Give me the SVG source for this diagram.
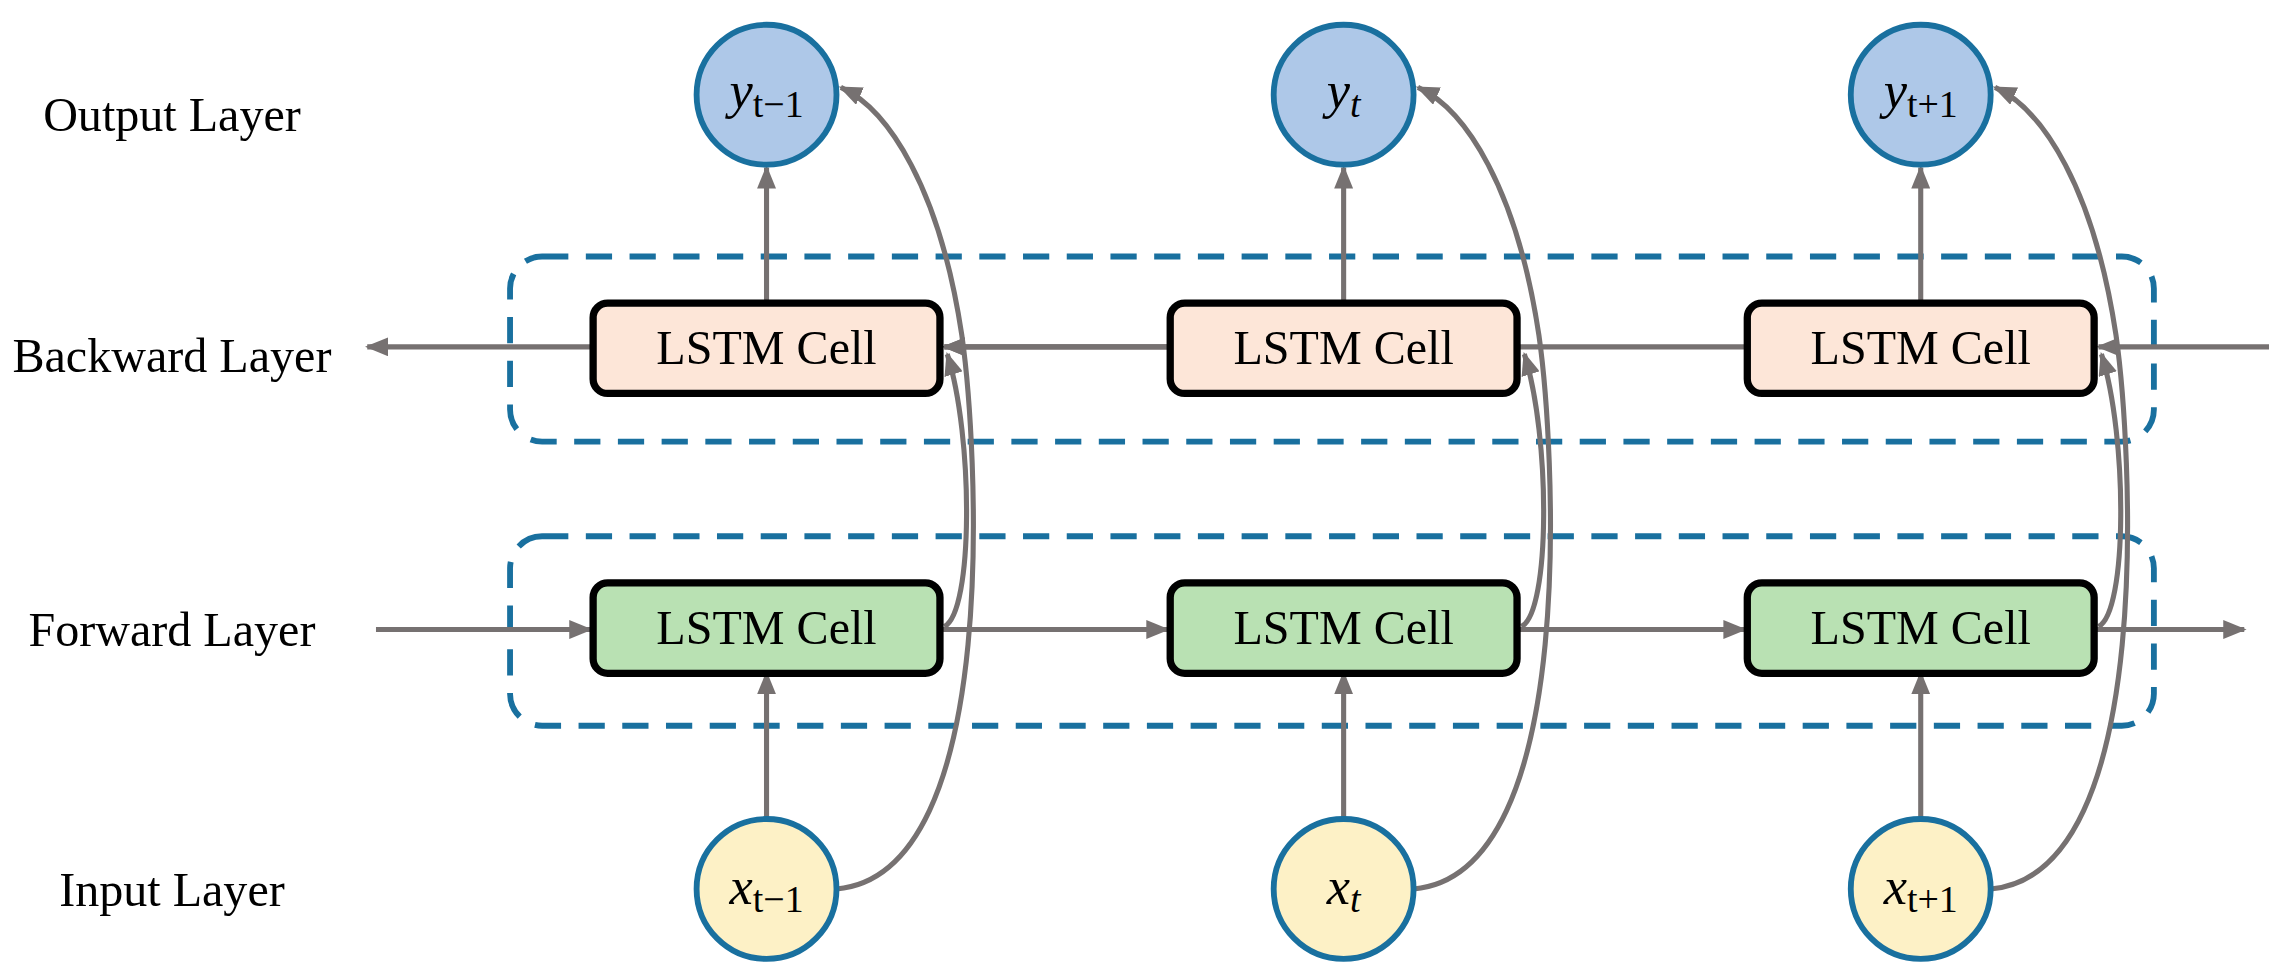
<svg xmlns="http://www.w3.org/2000/svg" width="2285" height="980" viewBox="0 0 2285 980">
<style>
.lbl{font-family:"Liberation Serif",serif;font-size:33px;fill:#000;text-anchor:middle}
.cell{stroke:#000;stroke-width:5}
.bw{fill:#fde6d8}.fw{fill:#b9e1b3}
.out{fill:#aec8e8;stroke:#19709f;stroke-width:4}
.inp{fill:#fdf1c6;stroke:#19709f;stroke-width:4}
.dash{fill:none;stroke:#19709f;stroke-width:4;stroke-dasharray:18 12}
.m{font-family:"Liberation Serif",serif;font-style:italic;font-size:36px;text-anchor:middle}
.s{font-size:26px}
</style>
<defs>
<marker id="b" viewBox="0 0 10 10" refX="9" refY="5" markerWidth="16" markerHeight="13" orient="auto" markerUnits="userSpaceOnUse" preserveAspectRatio="none"><path d="M0,0L10,5L0,10z" fill="#767171"/></marker></defs>
<g transform="scale(1.4573)">
<g id="labels">
<text class="lbl" x="118" y="90">Output Layer</text>
<text class="lbl" x="118" y="255">Backward Layer</text>
<text class="lbl" x="118" y="443">Forward Layer</text>
<text class="lbl" x="118" y="622">Input Layer</text>
</g>
<rect class="dash" x="350" y="176" width="1128" height="127" rx="22"/>
<rect class="dash" x="350" y="368" width="1128" height="130" rx="22"/>
<g id="connectors" fill="none" stroke="#767171" stroke-width="3.5">
<g style="marker-end:url(#b)">
<path d="M1557,238H1440"/><path d="M1199,238H648"/><path d="M803,238H648"/><path d="M407,238H252"/>
<path d="M258,432H405"/><path d="M645,432H801"/><path d="M1041,432H1197"/><path d="M1437,432H1540"/>
<path d="M526,208V115"/><path d="M922,208V115"/><path d="M1318,208V115"/>
<path d="M526,562V462"/><path d="M922,562V462"/><path d="M1318,562V462"/>
<path d="M574,610C690,600 670,300 660,230 645,130 610,75 577,60"/>
<path d="M970,610C1086,600 1066,300 1056,230 1041,130 1006,75 973,60"/>
<path d="M1366,610C1482,600 1462,300 1452,230 1437,130 1402,75 1369,60"/>
<path d="M648,430C668,420 668,300 650,243"/>
<path d="M1044,430C1064,420 1064,300 1046,243"/>
<path d="M1440,430C1460,420 1460,300 1442,243"/>
</g>
</g>
<g id="b1"><rect class="cell bw" x="407" y="208" width="238" height="62" rx="10"/><text class="lbl" x="526" y="250">LSTM Cell</text></g>
<g id="b2"><rect class="cell bw" x="803" y="208" width="238" height="62" rx="10"/><text class="lbl" x="922" y="250">LSTM Cell</text></g>
<g id="b3"><rect class="cell bw" x="1199" y="208" width="238" height="62" rx="10"/><text class="lbl" x="1318" y="250">LSTM Cell</text></g>
<g id="f1"><rect class="cell fw" x="407" y="400" width="238" height="62" rx="10"/><text class="lbl" x="526" y="442">LSTM Cell</text></g>
<g id="f2"><rect class="cell fw" x="803" y="400" width="238" height="62" rx="10"/><text class="lbl" x="922" y="442">LSTM Cell</text></g>
<g id="f3"><rect class="cell fw" x="1199" y="400" width="238" height="62" rx="10"/><text class="lbl" x="1318" y="442">LSTM Cell</text></g>
<g id="y1"><circle class="out" cx="526" cy="65" r="48"/><text class="m" x="526" y="74">y<tspan class="s" dy="6" font-style="normal">t−1</tspan></text></g>
<g id="y2"><circle class="out" cx="922" cy="65" r="48"/><text class="m" x="922" y="74">y<tspan class="s" dy="6">t</tspan></text></g>
<g id="y3"><circle class="out" cx="1318" cy="65" r="48"/><text class="m" x="1318" y="74">y<tspan class="s" dy="6" font-style="normal">t+1</tspan></text></g>
<g id="x1"><circle class="inp" cx="526" cy="610" r="48"/><text class="m" x="526" y="620">x<tspan class="s" dy="6" font-style="normal">t−1</tspan></text></g>
<g id="x2"><circle class="inp" cx="922" cy="610" r="48"/><text class="m" x="922" y="620">x<tspan class="s" dy="6">t</tspan></text></g>
<g id="x3"><circle class="inp" cx="1318" cy="610" r="48"/><text class="m" x="1318" y="620">x<tspan class="s" dy="6" font-style="normal">t+1</tspan></text></g>
</g>
</svg>
